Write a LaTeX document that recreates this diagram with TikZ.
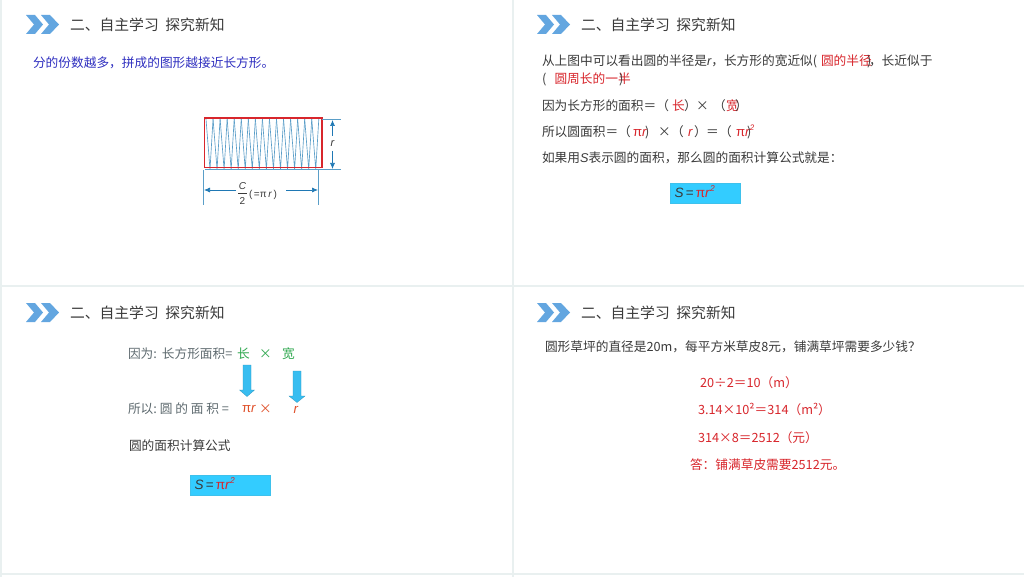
\documentclass[tikz,border=0pt]{standalone}
\usepackage{fontspec}
\setmainfont{Noto Sans CJK SC}
\newfontfamily\latinit[ItalicFont=Liberation Sans Italic]{Liberation Sans}
\definecolor{gridc}{HTML}{E9F0F0}
\definecolor{chev}{HTML}{63A6E0}
\definecolor{bodyc}{HTML}{3A3A3A}
\definecolor{redc}{HTML}{D8262C}
\definecolor{bluec}{HTML}{2F2FC0}
\definecolor{greenc}{HTML}{2FA84F}
\definecolor{greyc}{HTML}{5F6B70}
\definecolor{orangec}{HTML}{E0502A}
\definecolor{cyanc}{HTML}{33CCFF}
\definecolor{arrc}{HTML}{38BDF0}
\definecolor{zigc}{HTML}{5A9EC8}
\definecolor{dimc}{HTML}{1F78B4}
\usetikzlibrary{arrows.meta}
\newcommand{\itl}[1]{{\latinit\itshape #1}}
\tikzset{
  every node/.style={inner sep=0pt,outer sep=0pt,anchor=west,text height=.85em,text depth=.15em},
  title/.style={font=\fontsize{14.8}{16}\selectfont,text=bodyc,yshift=-2pt},
  body/.style={font=\fontsize{12.7}{14}\selectfont,text=bodyc,yshift=-2pt},
  red/.style={font=\fontsize{12.7}{14}\selectfont,text=redc,yshift=-2pt},
  latinred/.style={font=\fontsize{13.2}{14}\selectfont\latinit,text=redc,yshift=-2pt},
  chevshape/.style={fill=chev,draw=none},
  formula/.style={fill=cyanc,draw=cyanc!85!gray,line width=.4pt},
  blockarrow/.style={fill=arrc,draw=arrc!80!black,line width=.3pt},
  dim/.style={draw=zigc,line width=.6pt},
  dimarrow/.style={draw=dimc,line width=.7pt,-{Latex[length=6pt,width=5pt]}}
}
\newcommand{\chevrons}[2]{%
  \begin{scope}[shift={(#1,#2)}]
    \fill[chevshape] (0,0)--(9,0)--(17,9.5)--(9,19)--(0,19)--(8,9.5)--cycle;
    \fill[chevshape] (15,0)--(24,0)--(33,9.5)--(24,19)--(15,19)--(23,9.5)--cycle;
  \end{scope}}
\newcommand{\formulabox}[3]{%
  \node[formula,minimum width=#3pt,minimum height=20pt,anchor=north west] at (#1,#2) {};
  \node[anchor=west,font=\fontsize{13.5}{14}\selectfont\latinit] at (#1+4.5,#2+11) {\textcolor{bodyc}{\textit{S}\,=}\,\textcolor{redc}{π\textit{r}\raisebox{.45em}{\fontsize{8.5}{9}\selectfont\textit{2}}}};}
\begin{document}
\begin{tikzpicture}[x=1pt,y=-1pt]
\useasboundingbox (0,0) rectangle (1024,577);
\fill[white] (0,0) rectangle (1024,577);
\draw[gridc,line width=2pt] (1,0)--(1,577);
\draw[gridc,line width=2pt] (512.5,0)--(512.5,577);
\draw[gridc,line width=2pt] (0,286)--(1024,286);
\draw[gridc,line width=2pt] (0,574)--(1024,574);
\chevrons{26}{15}\chevrons{537}{15}\chevrons{26}{303}\chevrons{537}{303}
\node[title] (t1) at (70,25) {二、自主学习\ \ 探究新知};
\node[title] (t2) at (581,25) {二、自主学习\ \ 探究新知};
\node[title] (t3) at (70,312.5) {二、自主学习\ \ 探究新知};
\node[title] (t4) at (581,312.5) {二、自主学习\ \ 探究新知};
% panel 1
\node[body,text=bluec] (p1) at (33,62.5) {分的份数越多，拼成的图形越接近长方形。};
\foreach \k in {0,...,15}{
  \draw[zigc,line width=.65pt] ({206+7.05*\k},119) -- ({210+7.05*\k},169.5) -- ({213.05+7.05*\k},119);
}
\draw[zigc,line width=.6pt] (205,169.5)--(318,169.5);
\draw[redc,line width=1.4pt] (204.5,118)rectangle(322,167.5);
\draw[dim] (322,119.5)--(341,119.5);
\draw[dim] (318,169.5)--(341,169.5);
\draw[dim] (203.5,170)--(203.5,205);
\draw[dim] (318,170)--(318,205);
\node[font=\fontsize{11}{12}\selectfont\latinit\itshape,text=bodyc,anchor=center] (rr) at (332.5,143) {r};
\draw[dimarrow] (332.5,136)--(332.5,120);
\draw[dimarrow] (332.5,151)--(332.5,169);
\node[font=\fontsize{10}{10}\selectfont\latinit,text=bodyc,anchor=center] (cc) at (242.5,186) {\textit{C}};
\draw[bodyc,line width=.4pt] (238,193.5)--(247,193.5);
\node[font=\fontsize{10}{10}\selectfont\latinit,text=bodyc,anchor=center] (two) at (242.5,201) {2};
\node[font=\fontsize{10}{10}\selectfont\latinit,text=bodyc,anchor=west] (eq) at (249,194) {(\,=π\,\textit{r}\,)};
\draw[dimarrow] (236,190)--(204,190);
\draw[dimarrow] (286,190)--(318,190);
% panel 2
\node[body] (a1) at (542,60) {从上图中可以看出圆的半径是\itl{r}，长方形的宽近似(};
\node[red] (a2) at (821,60) {圆的半径};
\node[body] (a3) at (867,60) {)};
\node[body] (a4) at (869,60) {，长近似于};
\node[body] (b1) at (542,78.5) {(};
\node[red] (b2) at (554.5,78.5) {圆周长的一半};
\node[body] (b3) at (619,78.5) {)};
\node[body] (c1) at (542,105) {因为长方形的面积＝（};
\node[red] (c2) at (672,105) {长};
\node[body] (c3) at (684,105) {）};
\node[body] (c4) at (696,105) {×};
\node[body] (c5) at (713,105) {（};
\node[red] (c6) at (726,105) {宽};
\node[body] (c7) at (735,105) {）};
\node[body] (d1) at (542,131) {所以圆面积＝（};
\node[latinred] (d2) at (633,131) {π\textit{r}};
\node[body] (d3) at (645,131) {)};
\node[body] (d4) at (658,131) {×};
\node[body] (d5) at (671,131) {（};
\node[latinred] (d6) at (688,131) {\textit{r}};
\node[body] (d7) at (694,131) {）};
\node[body] (d8) at (706,131) {＝};
\node[body] (d9) at (719,131) {（};
\node[latinred] (d10) at (736,131) {π\textit{r}\raisebox{.45em}{\fontsize{8}{9}\selectfont\textit{2}}};
\node[body] (d11) at (747,131) {)};
\node[body] (e1) at (542,157) {如果用\itl{S}表示圆的面积，那么圆的面积计算公式就是：};
\formulabox{670}{183}{70}
% panel 3
\node[body,text=greyc] (f1) at (128,353) {因为:\ \,长方形面积=};
\node[body,text=greenc] (f2) at (237,353) {长};
\node[body,text=greenc] (f3) at (259,353) {×};
\node[body,text=greenc] (f4) at (282,353) {宽};
\path[blockarrow] (243,365)--(251,365)--(251,390)--(254.5,390)--(247,396.5)--(239.5,390)--(243,390)--cycle;
\path[blockarrow] (293,371)--(301,371)--(301,396)--(305,396)--(297,402.5)--(289,396)--(293,396)--cycle;
\node[body,text=greyc] (g1) at (128,408) {所以:\ 圆\ 的\ 面\ 积\ =};
\node[latinred,text=orangec] (g2) at (242,407) {π\textit{r}};
\node[body,text=orangec] (g3) at (259,408) {×};
\node[latinred,text=orangec] (g4) at (293.5,408) {\textit{r}};
\node[body] (h1) at (129,445) {圆的面积计算公式};
\formulabox{190}{475}{80}
% panel 4
\node[body] (i1) at (545,346) {圆形草坪的直径是20m，每平方米草皮8元，铺满草坪需要多少钱？};
\node[red] (i2) at (700,382) {20÷2＝10（m）};
\node[red] (i3) at (698,409) {3.14×10²＝314（m²）};
\node[red] (i4) at (698,437) {314×8＝2512（元）};
\node[red] (i5) at (690,464) {答：铺满草皮需要2512元。};
\end{tikzpicture}
\end{document}
